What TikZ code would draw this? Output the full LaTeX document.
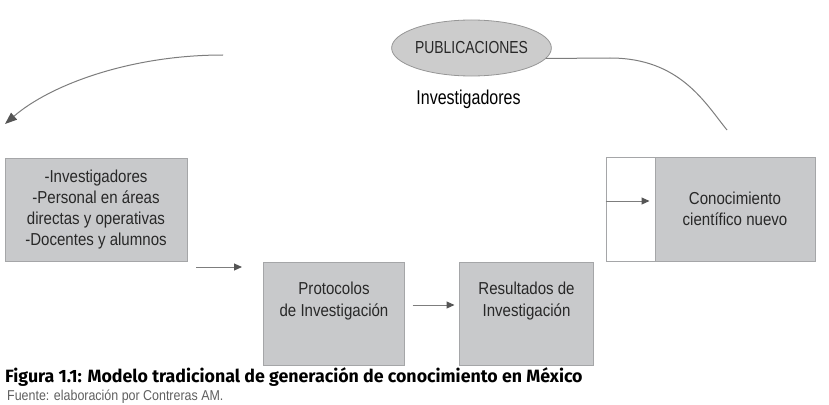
\documentclass[tikz,border=0pt]{standalone}
\usepackage{fontspec}
\setmainfont{Liberation Sans}
\newfontfamily\narrowfont{Liberation Sans}[FakeStretch=0.87]
\newfontfamily\condfont{Liberation Sans}[FakeStretch=0.8]
\newfontfamily\capfont{Fira Sans}
\usetikzlibrary{arrows.meta,shapes.geometric}
\definecolor{boxfill}{RGB}{200,201,203}
\definecolor{boxline}{RGB}{165,166,168}
\definecolor{ellfill}{RGB}{204,204,204}
\definecolor{ellline}{RGB}{150,150,150}
\definecolor{linegray}{RGB}{125,125,125}
\definecolor{tipgray}{RGB}{85,85,85}
\definecolor{txtgray}{RGB}{40,40,40}
\definecolor{srcgray}{RGB}{95,95,95}
\begin{document}
\begin{tikzpicture}[x=1pt,y=-1pt,
  graybox/.style={draw=boxline, fill=boxfill, line width=1pt, inner sep=0pt,
    align=center, text=txtgray, font=\narrowfont\fontsize{17.3}{21}\selectfont},
  whitebox/.style={draw=boxline, fill=white, line width=0.8pt, inner sep=0pt},
  boxtext/.style={align=center, text=txtgray, inner sep=0pt,
    font=\narrowfont\fontsize{17.3}{22}\selectfont},
  conn/.style={draw=linegray, line width=1pt,
    -{Triangle[length=8pt,width=7pt,color=tipgray]}},
  bigconn/.style={draw=linegray, line width=1pt,
    -{Triangle[length=12pt,width=9pt,color=tipgray]}},
  plain/.style={draw=linegray, line width=1pt}
]
\useasboundingbox (0,0) rectangle (829,404);

% ellipse
\node[ellipse, draw=ellline, fill=ellfill, line width=0.8pt,
  minimum width=153pt, minimum height=56pt, inner sep=0pt,
  text=txtgray, font=\condfont\fontsize{17.4}{20}\selectfont] (pub) at (471.5,48) {PUBLICACIONES};
\node[text=black, inner sep=0pt, font=\condfont\fontsize{20}{23}\selectfont] (inv) at (468.5,99) {Investigadores};

% boxes
\node[graybox, minimum width=182pt, minimum height=103pt] (b1) at (96,209.5)
  {-Investigadores\\-Personal en áreas\\directas y operativas\\-Docentes y alumnos};
\node[graybox, minimum width=141pt, minimum height=103pt] (prot) at (333.5,313.5) {};
\node[boxtext] (prott) at (334,301) {Protocolos\\de Investigación};
\node[graybox, minimum width=134pt, minimum height=103pt] (res) at (526,313.5) {};
\node[boxtext] (rest) at (526.5,301.5) {Resultados de\\Investigación};
\node[whitebox, minimum width=49pt, minimum height=104pt] (wb) at (630.5,209) {};
\node[graybox, minimum width=160pt, minimum height=104pt] (con) at (735,209)
  {Conocimiento\\científico nuevo};

% connector coordinates
\coordinate (ls) at (223,55);
\coordinate (le) at (5,124);
\coordinate (re) at (727,130);
\coordinate (rm) at (610,58);
\coordinate (a1s) at (196,267);
\coordinate (a1e) at (242,267);
\coordinate (a2) at (0,305);
\coordinate (a3) at (0,201);

% connectors
\draw[bigconn] (ls) .. controls (130,55) and (50,85) .. (le);
\draw[plain] (pub.-8) -- (rm) .. controls (680,58) and (705,103) .. (re);
\draw[conn] (a1s) -- (a1e);
\draw[conn, shorten <=8pt, shorten >=4pt] (prot.east |- a2) -- (res.west |- a2);
\draw[conn, shorten >=5pt] (wb.west |- a3) -- (con.west |- a3);

% caption
\node[anchor=base west, inner sep=0pt, text=black,
  font=\capfont\bfseries\fontsize{17.8}{20}\selectfont] (cap) at (5,382.5)
  {Figura 1.1: Modelo tradicional de generación de conocimiento en México};
\node[anchor=base west, inner sep=0pt, text=srcgray,
  font=\narrowfont\fontsize{14.3}{16}\selectfont] (src) at (7,400.5)
  {Fuente: elaboración por Contreras AM.};
\end{tikzpicture}
\end{document}
